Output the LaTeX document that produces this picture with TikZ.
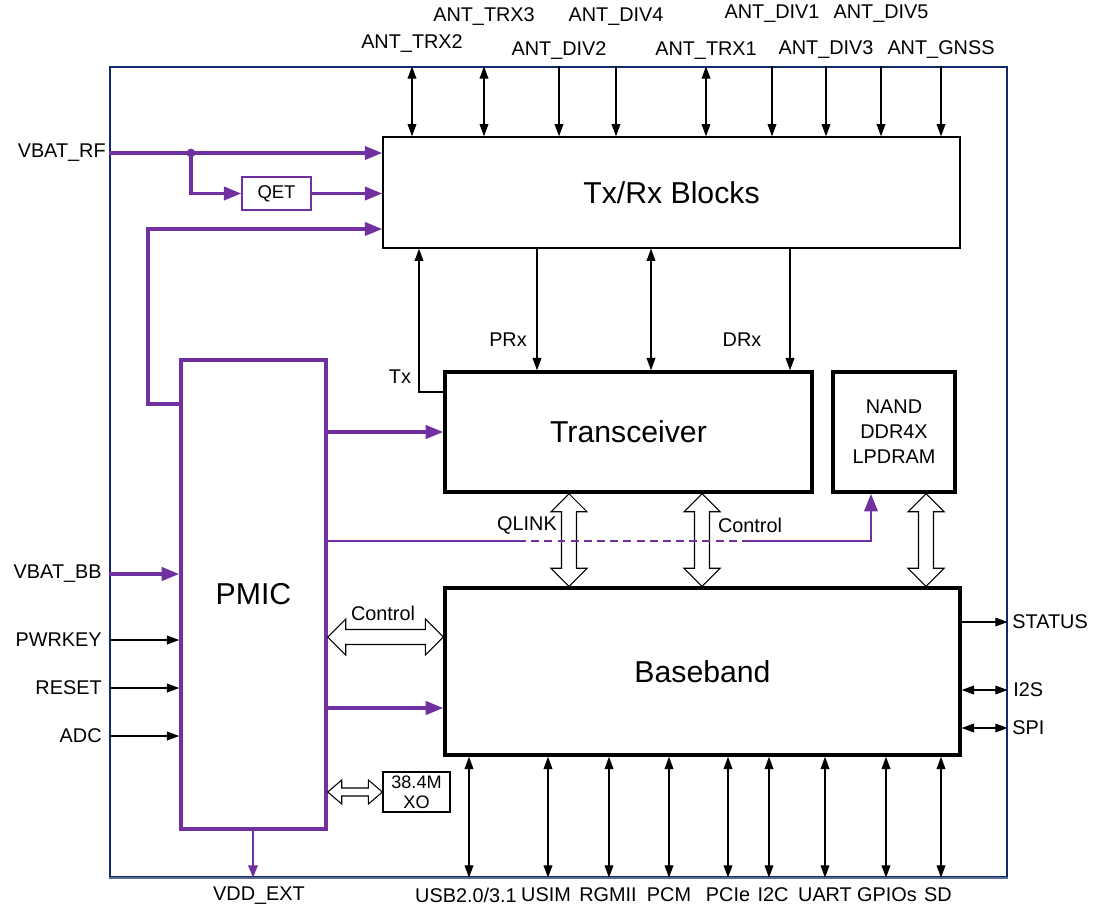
\documentclass[tikz,border=0pt]{standalone}
\usepackage{fontspec}
\setmainfont{Liberation Sans}
\usetikzlibrary{arrows.meta, positioning, calc}
\definecolor{pmicPurple}{RGB}{112, 48, 160}
\definecolor{frameBlue}{RGB}{20, 40, 110}
\definecolor{frameGray}{RGB}{90, 110, 145}

% hollow double arrows: from, to, head length, head half width, shaft half width
\newcommand{\hollowh}[5]{%
  \draw[link] (#1) -- ++(#3,-#4) -- ++(0,#4-#5) -- ($(#2)+(-#3,-#5)$) -- ++(0,#5-#4) -- (#2)
    -- ++(-#3,#4) -- ++(0,#5-#4) -- ($(#1)+(#3,#5)$) -- ++(0,#4-#5) -- cycle;}
\newcommand{\hollowv}[5]{%
  \draw[link] (#1) -- ++(#4,#3) -- ++(#5-#4,0) -- ($(#2)+(#5,-#3)$) -- ++(#4-#5,0) -- (#2)
    -- ++(-#4,-#3) -- ++(#4-#5,0) -- ($(#1)+(-#5,#3)$) -- ++(#5-#4,0) -- cycle;}

\begin{document}
\begin{tikzpicture}[x=0.02cm, y=-0.02cm,
    bigbox/.style={rectangle, draw, line width=2pt, inner sep=0pt, font=\fontsize{17.2}{20}\selectfont},
    lbl/.style={inner sep=0pt, font=\fontsize{11.3}{13.5}\selectfont},
    sig/.style={-{Triangle[length=7pt, width=5pt]}, line width=0.6pt},
    sigboth/.style={{Triangle[length=7pt, width=5pt]}-{Triangle[length=7pt, width=5pt]}, line width=0.6pt},
    pwr/.style={draw=pmicPurple, line width=2pt, -{Triangle[length=10pt, width=7.5pt]}},
    link/.style={draw, fill=white, line width=0.6pt}
  ]
  \useasboundingbox (0,0) rectangle (1098,910);
  \node[draw=frameBlue, line width=0.8pt, minimum width=17.94cm, minimum height=16.2cm, inner sep=0pt] (frame) at (558.5,472) {};
  \draw[frameGray, line width=1pt] (frame.south west) -- (frame.south east);

  % blocks
  \node[bigbox, line width=0.8pt, minimum width=11.54cm, minimum height=2.22cm] (txrx) at (671.5,192.5) {Tx/Rx Blocks};
  \node[bigbox, minimum width=7.34cm, minimum height=2.4cm] (trx) at (628.5,432) {Transceiver};
  \node[bigbox, minimum width=2.44cm, minimum height=2.4cm, align=center, font=\fontsize{11.3}{14.2}\selectfont] (nand) at (894,432) {NAND\\DDR4X\\LPDRAM};
  \node[bigbox, minimum width=10.3cm, minimum height=3.34cm] (bb) at (702.5,671.5) {Baseband};
  \node[bigbox, draw=pmicPurple, minimum width=2.9cm, minimum height=9.38cm] (pmic) at (253.5,594.5) {PMIC};
  \node[draw=pmicPurple, line width=0.7pt, minimum width=1.38cm, minimum height=0.66cm, inner sep=0pt, font=\fontsize{10.5}{12}\selectfont] (qet) at (276.5,193.5) {QET};
  \node[draw, line width=0.7pt, minimum width=1.34cm, minimum height=0.8cm, inner sep=0pt, align=center, font=\fontsize{10.3}{11.5}\selectfont] (xo) at (416.5,792) {38.4M\\XO};

  % antennas
  \node[lbl] (trx3) at (484,17) {ANT\_TRX3};
  \node[lbl] (div4) at (616,17) {ANT\_DIV4};
  \node[lbl] (div1) at (772,14) {ANT\_DIV1};
  \node[lbl] (div5) at (881,14) {ANT\_DIV5};
  \node[lbl] (trx2) at (412,44) {ANT\_TRX2};
  \node[lbl] (div2) at (559,51) {ANT\_DIV2};
  \node[lbl] (trx1) at (706,51) {ANT\_TRX1};
  \node[lbl] (div3) at (826,50) {ANT\_DIV3};
  \node[lbl] (gnss) at (941,50) {ANT\_GNSS};
  \draw[sigboth] (frame.north -| trx2) -- (txrx.north -| trx2);
  \draw[sigboth] (frame.north -| trx3) -- (txrx.north -| trx3);
  \draw[sig] (frame.north -| div2) -- (txrx.north -| div2);
  \draw[sig] (frame.north -| div4) -- (txrx.north -| div4);
  \draw[sigboth] (frame.north -| trx1) -- (txrx.north -| trx1);
  \draw[sig] (frame.north -| div1) -- (txrx.north -| div1);
  \draw[sig] (frame.north -| div3) -- (txrx.north -| div3);
  \draw[sig] (frame.north -| div5) -- (txrx.north -| div5);
  \draw[sig] (frame.north -| gnss) -- (txrx.north -| gnss);

  % power inputs
  \node[lbl, anchor=east] (vbatrf) at (106,153) {VBAT\_RF};
  \node[lbl, anchor=east] (vbatbb) at (102,574) {VBAT\_BB};
  \node[lbl, anchor=east] (pwrkey) at (102,640) {PWRKEY};
  \node[lbl, anchor=east] (reset) at (102,688) {RESET};
  \node[lbl, anchor=east] (adc) at (102,736) {ADC};
  \coordinate (jn) at (vbatrf -| 191,0);
  \draw[pwr] (frame.west |- vbatrf) -- (txrx.west |- vbatrf);
  \fill[pmicPurple] (jn) circle (2.5pt);
  \draw[pwr] (jn) |- (qet.west);
  \draw[pwr] (qet.east) -- (txrx.west |- qet.east);
  \draw[pwr] (pmic.west |- 0,404) -| (148,229) -- (txrx.west |- 0,229);
  \draw[pwr] (frame.west |- vbatbb) -- (pmic.west |- vbatbb);
  \draw[sig] (frame.west |- pwrkey) -- (pmic.west |- pwrkey);
  \draw[sig] (frame.west |- reset) -- (pmic.west |- reset);
  \draw[sig] (frame.west |- adc) -- (pmic.west |- adc);

  % PMIC outputs
  \draw[pwr] (pmic.east |- trx.west) -- (trx.west);
  \draw[pwr] (pmic.east |- 0,708) -- (bb.west |- 0,708);
  \coordinate (c1) at (pmic.east |- 0,637);
  \coordinate (c2) at (bb.west |- 0,637);
  \hollowh{c1}{c2}{18}{18}{7.5}
  \node[lbl] (ctl1) at (383,613) {Control};
  \coordinate (x1) at (pmic.east |- xo);
  \hollowh{x1}{xo.west}{14}{12}{4}
  \node[lbl] (vddext) at (259,896) {VDD\_EXT};
  \draw[draw=pmicPurple, line width=0.8pt, -{Triangle[length=7pt, width=5.5pt]}] (pmic.south -| 253,0) -- (frame.south -| 253,0);

  % Tx/Rx to transceiver
  \draw[sig] (trx.west |- 0,392) -| (txrx.south -| 419,0);
  \node[lbl] (tx) at (400,377) {Tx};
  \draw[sig] (txrx.south -| 537,0) -- (trx.north -| 537,0);
  \node[lbl] (prx) at (508,340) {PRx};
  \draw[sigboth] (txrx.south -| 651,0) -- (trx.north -| 651,0);
  \draw[sig] (txrx.south -| 790,0) -- (trx.north -| 790,0);
  \node[lbl] (drx) at (742,340) {DRx};

  % links to baseband
  \coordinate (l1) at (trx.south -| 569,0);
  \coordinate (l2) at (bb.north -| 569,0);
  \coordinate (l3) at (trx.south -| 702,0);
  \coordinate (l4) at (bb.north -| 702,0);
  \coordinate (l5) at (nand.south -| 926,0);
  \coordinate (l6) at (bb.north -| 926,0);
  \hollowv{l1}{l2}{18}{18}{7.5}
  \hollowv{l3}{l4}{18}{18}{7.5}
  \hollowv{l5}{l6}{18}{18}{7.5}

  % QLINK / control
  \draw[draw=pmicPurple, line width=1.6pt] (pmic.east |- 0,541) -- (518,541);
  \draw[draw=pmicPurple, line width=1.6pt, dash pattern=on 4.5pt off 3pt] (518,541) -- (747,541);
  \draw[pwr, line width=1.6pt] (747,541) -| (nand.south -| 871,0);
  \node[lbl] (qlink) at (527,525) {QLINK};
  \node[lbl] (ctl2) at (750,525) {Control};

  % right side
  \node[lbl, anchor=west] (status) at (1012,622) {STATUS};
  \node[lbl, anchor=west] (i2s) at (1013,690) {I2S};
  \node[lbl, anchor=west] (spi) at (1012,728) {SPI};
  \draw[sig] (bb.east |- status) -- (frame.east |- status);
  \draw[sigboth] (bb.east |- i2s) -- (frame.east |- i2s);
  \draw[sigboth] (bb.east |- spi) -- (frame.east |- spi);

  % bottom interfaces
  \node[lbl] (usb) at (466,895) {USB2.0/3.1};
  \node[lbl] (usim) at (546,895) {USIM};
  \node[lbl] (rgmii) at (608,895) {RGMII};
  \node[lbl] (pcm) at (669,895) {PCM};
  \node[lbl] (pcie) at (728,895) {PCIe};
  \node[lbl] (iic) at (773,895) {I2C};
  \node[lbl] (uart) at (825,895) {UART};
  \node[lbl] (gpio) at (887,895) {GPIOs};
  \node[lbl] (sd) at (938,895) {SD};
  \draw[sigboth] (bb.south -| 469,0) -- (frame.south -| 469,0);
  \draw[sigboth] (bb.south -| 548,0) -- (frame.south -| 548,0);
  \draw[sigboth] (bb.south -| 609,0) -- (frame.south -| 609,0);
  \draw[sigboth] (bb.south -| 669,0) -- (frame.south -| 669,0);
  \draw[sigboth] (bb.south -| 728,0) -- (frame.south -| 728,0);
  \draw[sigboth] (bb.south -| 769,0) -- (frame.south -| 769,0);
  \draw[sigboth] (bb.south -| 825,0) -- (frame.south -| 825,0);
  \draw[sigboth] (bb.south -| 886,0) -- (frame.south -| 886,0);
  \draw[sigboth] (bb.south -| 941,0) -- (frame.south -| 941,0);
\end{tikzpicture}
\end{document}
